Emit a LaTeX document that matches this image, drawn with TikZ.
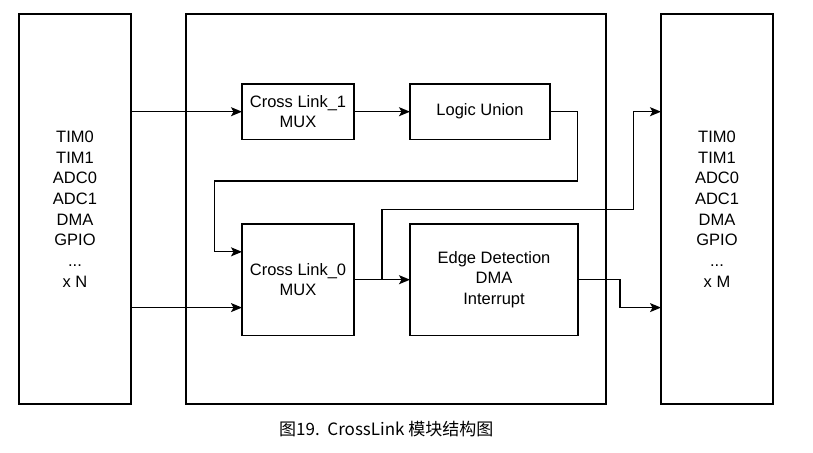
\documentclass[tikz,border=0pt]{standalone}
\usepackage{fontspec}
\setmainfont{Liberation Sans}
\newfontfamily\cjkfont{Noto Sans CJK SC}
\usetikzlibrary{arrows.meta,calc}
\tikzset{
  blk/.style={draw, line width=1.3pt, inner sep=0pt, outer sep=0pt, align=center,
    font=\fontsize{16.5}{20.7}\selectfont},
  conn/.style={line width=1.3pt, -{Stealth[length=11pt,width=9pt,inset=2.5pt]}},
  plain/.style={line width=1.3pt}
}
\begin{document}
\begin{tikzpicture}[x=1pt,y=-1pt]
\useasboundingbox (0,0) rectangle (813,452);
% outer boxes
\node[blk, minimum width=112pt, minimum height=390pt] (L) at (75,209)
  {TIM0\\TIM1\\ADC0\\ADC1\\DMA\\GPIO\\...\\x N};
\node[blk, minimum width=420pt, minimum height=390pt] (B) at (396,209) {};
\node[blk, minimum width=112pt, minimum height=390pt] (R) at (717,209)
  {TIM0\\TIM1\\ADC0\\ADC1\\DMA\\GPIO\\...\\x M};
% inner boxes
\node[blk, minimum width=112pt, minimum height=55.5pt] (CL1) at (298,111.7) {Cross Link\_1\\MUX};
\node[blk, minimum width=140pt, minimum height=55.5pt] (LU) at (480,111.7) {Logic Union};
\node[blk, minimum width=112pt, minimum height=111.5pt] (CL0) at (298,279.7) {Cross Link\_0\\MUX};
\node[blk, minimum width=168pt, minimum height=111.5pt] (ED) at (494,279.7) {Edge Detection\\DMA\\Interrupt};
% helper coordinates
\coordinate (in1) at ($(CL0.west)!0.5!(CL0.north west)$);
\coordinate (in2) at ($(CL0.west)!0.5!(CL0.south west)$);
\coordinate (br) at ($(CL0.east)!0.5!(ED.west)$);
\coordinate (lub) at (577.7,181);
\coordinate (brt) at (633.3,209.3);
\coordinate (edb) at (620,307.6);
% connectors
\draw[conn] (L.east |- CL1.west) -- (CL1.west);
\draw[conn] (L.east |- in2) -- (in2);
\draw[conn] (CL1.east) -- (LU.west);
\draw[conn] (LU.east) -| (lub) -| (214.3,220) |- (in1);
\draw[conn] (CL0.east) -- (ED.west);
\draw[conn] (br) |- (brt) |- (R.west |- CL1.east);
\draw[conn] (ED.east) -| (edb) -- (R.west |- edb);
% caption
\node[font={\cjkfont\fontsize{17}{20}\selectfont}, inner sep=0pt] (cap) at (386.3,429.5) {图19.\ \ CrossLink 模块结构图};
\end{tikzpicture}
\end{document}
